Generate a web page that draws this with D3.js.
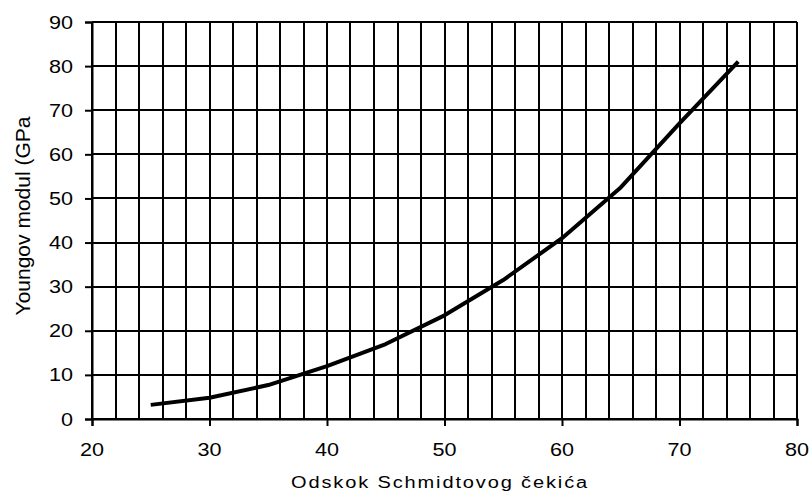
<!DOCTYPE html>
<html><head><meta charset="utf-8">
<script src="https://cdn.jsdelivr.net/npm/d3@7"></script>
<style>body{margin:0;background:#fff}svg{display:block}text{font-family:"Liberation Sans",Arial,sans-serif;fill:#000}</style>
</head><body>
<script>
const xValues = [25, 30, 35, 40, 45, 50, 55, 60, 65, 70, 75];
const yValues = [3.2, 4.8, 7.7, 12.0, 17.0, 23.5, 31.5, 41.0, 52.5, 67.0, 81.0];
const xTicks = [20, 30, 40, 50, 60, 70, 80];
const yTicks = [0, 10, 20, 30, 40, 50, 60, 70, 80, 90];
const xTitle = "Odskok Schmidtovog čekića";
const yTitle = "Youngov modul (GPa";

const W = 811, H = 493;
const L = 92, R = 797, T = 22, B = 419;
const svg = d3.select("body").append("svg").attr("width", W).attr("height", H);
const x = d3.scaleLinear().domain([20, 80]).range([L, R]);
const y = d3.scaleLinear().domain([0, 90]).range([B, T]);

// vertical grid every 2
svg.append("g").selectAll("line").data(d3.range(20, 81, 2)).join("line")
  .attr("x1", d => Math.round(x(d))).attr("x2", d => Math.round(x(d)))
  .attr("y1", T).attr("y2", B).attr("stroke", "#000").attr("stroke-width", 2);
// horizontal grid
svg.append("g").selectAll("line").data(yTicks).join("line")
  .attr("x1", L).attr("x2", R)
  .attr("y1", d => Math.round(y(d))).attr("y2", d => Math.round(y(d)))
  .attr("stroke", "#000").attr("stroke-width", 2);

const xAxis = svg.append("g").attr("transform", `translate(0,${B})`)
  .call(d3.axisBottom(x).tickValues(xTicks).tickSize(7).tickFormat(""));
const yAxis = svg.append("g").attr("transform", `translate(${L},0)`)
  .call(d3.axisLeft(y).tickValues(yTicks).tickSize(7).tickFormat(""));
[xAxis, yAxis].forEach(a => {
  a.select(".domain").attr("stroke", "#000").attr("stroke-width", 2);
  a.selectAll(".tick line").attr("stroke", "#000").attr("stroke-width", 2);
});

// tick labels (slightly widened like the reference)
svg.append("g").selectAll("g").data(xTicks).join("g")
  .attr("transform", d => `translate(${x(d)},456) scale(1.2,1)`)
  .append("text").attr("text-anchor", "middle").attr("font-size", 18).text(d => d);
svg.append("g").selectAll("g").data(yTicks).join("g")
  .attr("transform", d => `translate(73,${y(d) + 6.5}) scale(1.2,1)`)
  .append("text").attr("text-anchor", "end").attr("font-size", 18).text(d => d);

const line = d3.line().x((d, i) => x(xValues[i])).y(d => y(d));
svg.append("path").datum(yValues).attr("d", line)
  .attr("fill", "none").attr("stroke", "#000").attr("stroke-width", 4)
  .attr("stroke-linejoin", "round");

svg.append("g").attr("transform", "translate(440,488) scale(1.25,1)")
  .append("text").attr("text-anchor", "middle")
  .attr("font-size", 16).attr("letter-spacing", 1.5).text(xTitle);
svg.append("text").attr("transform", "translate(30,216) rotate(-90)").attr("text-anchor", "middle")
  .attr("font-size", 21).text(yTitle);
</script>
</body></html>
